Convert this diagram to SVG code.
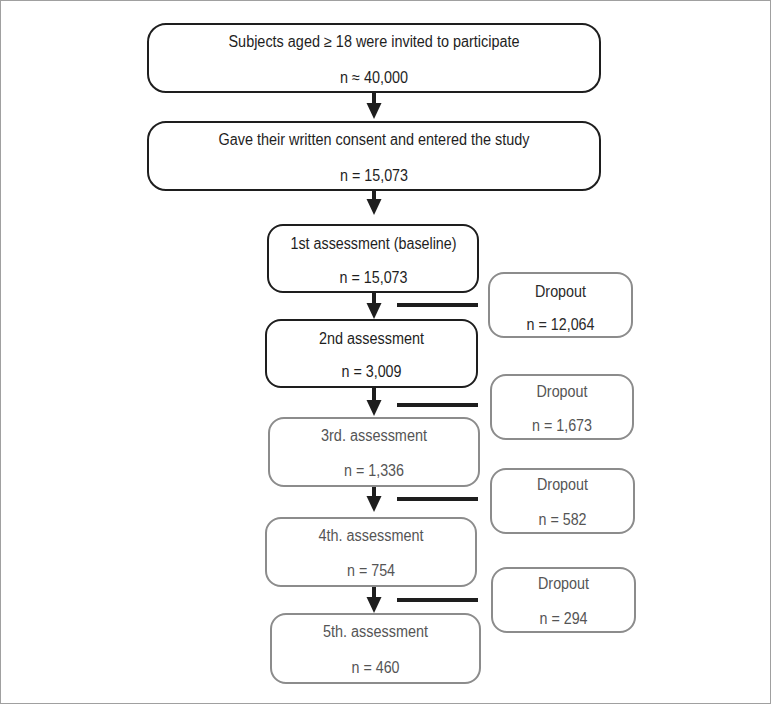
<svg xmlns="http://www.w3.org/2000/svg" width="771" height="704" viewBox="0 0 771 704">
<style>
text{font-family:"Liberation Sans",Arial,sans-serif;font-size:16px;text-anchor:middle}
.dk rect{fill:#fff;stroke:#1e1e1e;stroke-width:2}
.dk text{fill:#1e1e1e}
.gy rect{fill:#fff;stroke:#8c8c8c;stroke-width:2}
.gy text{fill:#555}
.gy .dt{fill:#2a2a2a}
.arr{stroke:#1e1e1e;stroke-width:4;fill:none;marker-end:url(#ah)}
.bar{stroke:#1e1e1e;stroke-width:4}
</style>
<defs>
<marker id="ah" markerUnits="userSpaceOnUse" markerWidth="16" markerHeight="16" viewBox="0 0 16 16" refX="8" refY="8" orient="auto">
<path d="M0,0.5 L16,8 L0,15.5 Z" fill="#1e1e1e"/>
</marker>
</defs>
<rect x="0.5" y="0.5" width="770" height="703" fill="#fff" stroke="#a0a0a0" stroke-width="1"/>
<g id="connectors">
<line class="arr" x1="374" y1="92" x2="374" y2="111"/>
<line class="arr" x1="374" y1="191" x2="374" y2="207"/>
<line class="arr" x1="374" y1="292" x2="374" y2="311"/>
<line class="arr" x1="374" y1="387" x2="374" y2="408"/>
<line class="arr" x1="374" y1="486" x2="374" y2="504"/>
<line class="arr" x1="374" y1="586" x2="374" y2="605"/>
<line class="bar" x1="397" y1="305" x2="478" y2="305"/>
<line class="bar" x1="397" y1="405" x2="478" y2="405"/>
<line class="bar" x1="397" y1="499" x2="478" y2="499"/>
<line class="bar" x1="397" y1="600" x2="478" y2="600"/>
</g>
<g id="invited" class="dk">
<rect x="148" y="24" width="452" height="68" rx="18"/>
<text x="374" y="47" textLength="291" lengthAdjust="spacingAndGlyphs">Subjects aged ≥ 18 were invited to participate</text>
<text x="374" y="83" textLength="68" lengthAdjust="spacingAndGlyphs">n ≈ 40,000</text>
</g>
<g id="consent" class="dk">
<rect x="148" y="122" width="452" height="68" rx="18"/>
<text x="374" y="145" textLength="311" lengthAdjust="spacingAndGlyphs">Gave their written consent and entered the study</text>
<text x="374" y="181" textLength="68" lengthAdjust="spacingAndGlyphs">n = 15,073</text>
</g>
<g id="a1" class="dk">
<rect x="268" y="225" width="210" height="67" rx="15"/>
<text x="373.5" y="249" textLength="166" lengthAdjust="spacingAndGlyphs">1st assessment (baseline)</text>
<text x="373.5" y="283" textLength="68" lengthAdjust="spacingAndGlyphs">n = 15,073</text>
</g>
<g id="d1" class="gy">
<rect x="489" y="273" width="143" height="64" rx="15"/>
<text class="dt" x="560.5" y="297" textLength="51" lengthAdjust="spacingAndGlyphs">Dropout</text>
<text class="dt" x="560.5" y="330" textLength="68" lengthAdjust="spacingAndGlyphs">n = 12,064</text>
</g>
<g id="a2" class="dk">
<rect x="266" y="320" width="211" height="67" rx="15"/>
<text x="371.5" y="344" textLength="105" lengthAdjust="spacingAndGlyphs">2nd assessment</text>
<text x="371.5" y="377" textLength="60" lengthAdjust="spacingAndGlyphs">n = 3,009</text>
</g>
<g id="d2" class="gy">
<rect x="491" y="375" width="142" height="64" rx="15"/>
<text x="562" y="397" textLength="51" lengthAdjust="spacingAndGlyphs">Dropout</text>
<text x="562" y="431" textLength="60" lengthAdjust="spacingAndGlyphs">n = 1,673</text>
</g>
<g id="a3" class="gy">
<rect x="269" y="418" width="210" height="68" rx="15"/>
<text x="374" y="441" textLength="106" lengthAdjust="spacingAndGlyphs">3rd. assessment</text>
<text x="374" y="476" textLength="60" lengthAdjust="spacingAndGlyphs">n = 1,336</text>
</g>
<g id="d3" class="gy">
<rect x="491" y="469" width="143" height="64" rx="15"/>
<text x="562.5" y="490" textLength="51" lengthAdjust="spacingAndGlyphs">Dropout</text>
<text x="562.5" y="525" textLength="48" lengthAdjust="spacingAndGlyphs">n = 582</text>
</g>
<g id="a4" class="gy">
<rect x="266" y="518" width="210" height="68" rx="15"/>
<text x="371" y="541" textLength="105" lengthAdjust="spacingAndGlyphs">4th. assessment</text>
<text x="371" y="576" textLength="48" lengthAdjust="spacingAndGlyphs">n = 754</text>
</g>
<g id="d4" class="gy">
<rect x="492" y="568" width="143" height="64" rx="15"/>
<text x="563.5" y="589" textLength="51" lengthAdjust="spacingAndGlyphs">Dropout</text>
<text x="563.5" y="624" textLength="48" lengthAdjust="spacingAndGlyphs">n = 294</text>
</g>
<g id="a5" class="gy">
<rect x="271" y="614" width="209" height="69" rx="15"/>
<text x="375.5" y="637" textLength="105" lengthAdjust="spacingAndGlyphs">5th. assessment</text>
<text x="375.5" y="673" textLength="48" lengthAdjust="spacingAndGlyphs">n = 460</text>
</g>
</svg>
